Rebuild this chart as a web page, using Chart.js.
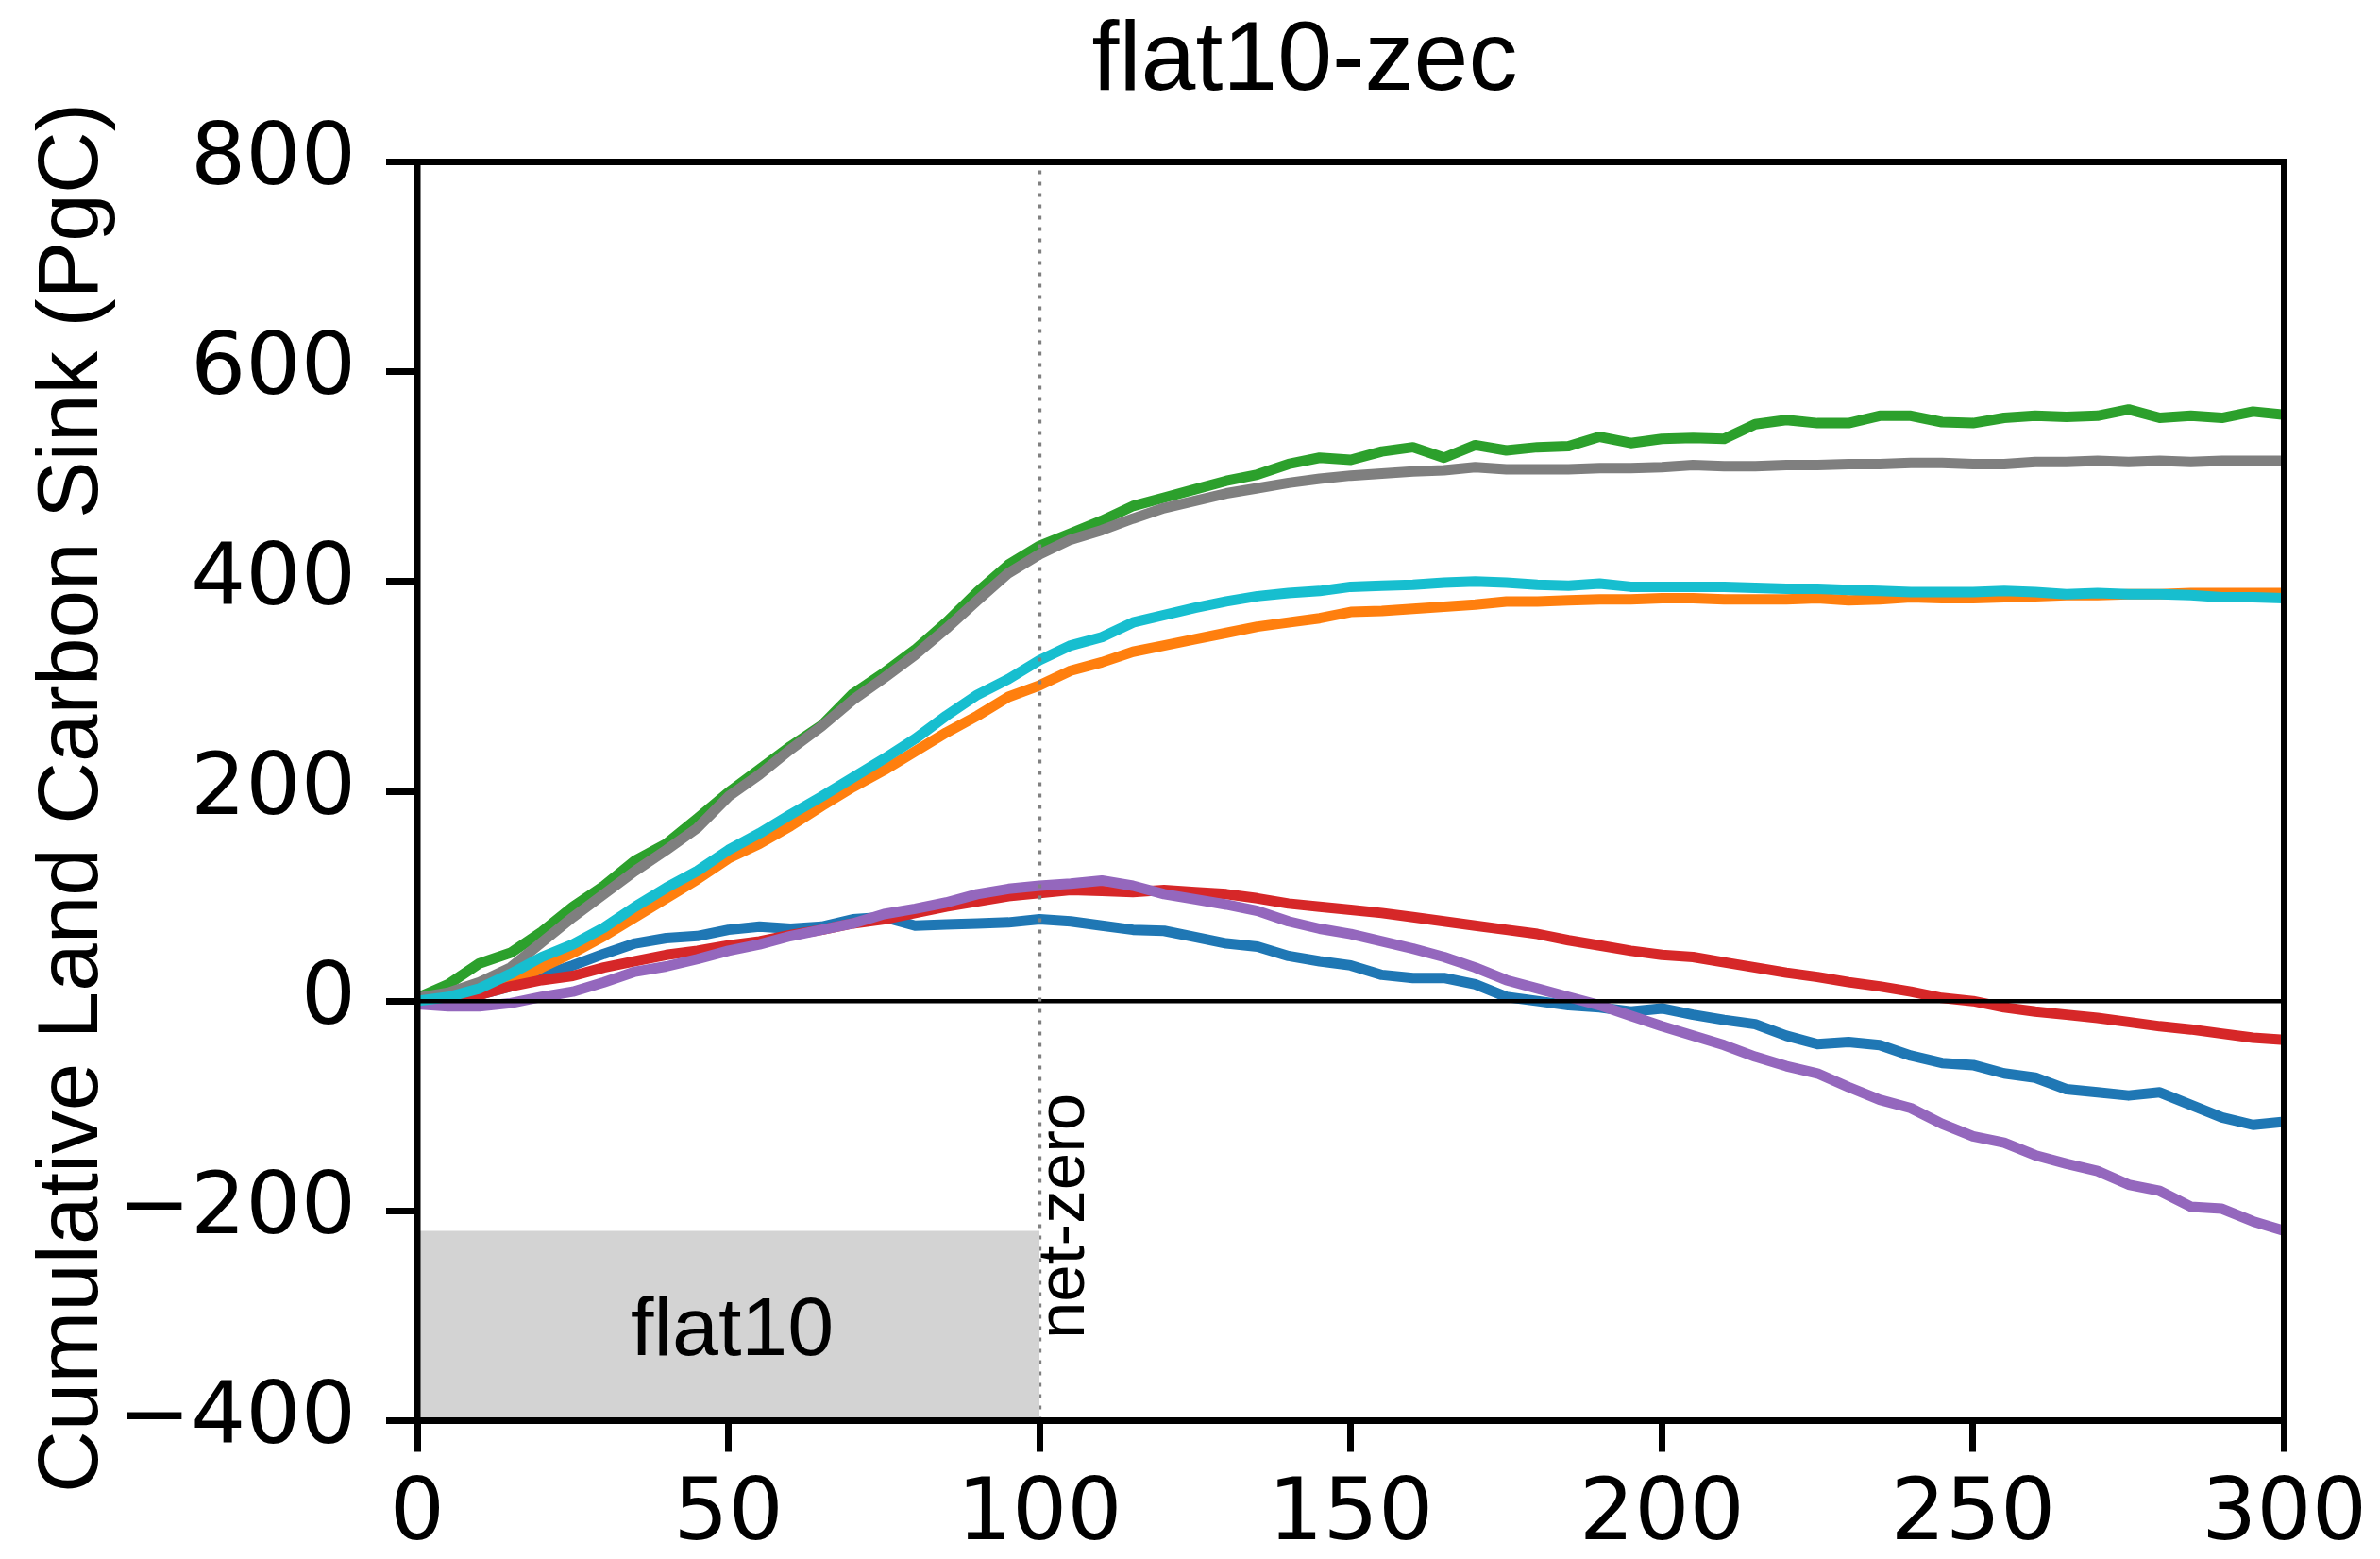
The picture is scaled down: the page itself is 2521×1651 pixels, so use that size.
<!DOCTYPE html>
<html>
<head>
<meta charset="utf-8">
<script src="https://cdn.jsdelivr.net/npm/chart.js@4.4.1/dist/chart.umd.min.js"></script>
<style>
  html, body { margin: 0; padding: 0; background: #fff; }
  #wrap { width: 2521px; height: 1651px; }
</style>
</head>
<body>
<div id="wrap"><canvas id="c" width="2521" height="1651"></canvas></div>
<script>
// years since start of run (every 5 years)
const years = [0, 5, 10, 15, 20, 25, 30, 35, 40, 45, 50, 55, 60, 65, 70, 75, 80, 85, 90, 95, 100,
  105, 110, 115, 120, 125, 130, 135, 140, 145, 150, 155, 160, 165, 170, 175, 180, 185, 190, 195, 200,
  205, 210, 215, 220, 225, 230, 235, 240, 245, 250, 255, 260, 265, 270, 275, 280, 285, 290, 295, 300];

// cumulative land carbon sink, PgC
const blue = [0, 0, 6, 14, 24, 34, 45, 55, 60, 62, 68, 71, 69, 71, 78, 80, 72, 73, 74, 75, 78,
  76, 72, 68, 67, 61, 55, 52, 43, 38, 34, 25, 22, 22, 16, 4, 0, -4, -6, -10, -7,
  -13, -18, -22, -33, -41, -39, -42, -52, -59, -61, -69, -73, -84, -87, -90, -87, -99, -111, -118, -115];
const orange = [0, 1, 6, 16, 32, 46, 62, 80, 98, 116, 136, 150, 167, 186, 204, 220, 238, 256, 272, 290, 301,
  315, 323, 333, 339, 345, 351, 357, 361, 365, 371, 372, 374, 376, 378, 381, 381, 382, 383, 383, 384,
  384, 383, 383, 383, 384, 382, 383, 385, 384, 384, 385, 386, 387, 387, 388, 388, 389, 389, 389, 389];
const green = [3, 16, 36, 46, 66, 90, 110, 134, 150, 174, 199, 221, 243, 263, 293, 313, 335, 361, 390, 416, 434,
  446, 458, 472, 480, 488, 496, 502, 512, 518, 516, 524, 528, 518, 530, 525, 528, 529, 538, 532, 536,
  537, 536, 550, 554, 551, 551, 558, 558, 552, 551, 556, 558, 557, 558, 564, 556, 558, 556, 562, 559];
const red = [0, 2, 6, 14, 20, 24, 32, 38, 44, 48, 53, 57, 63, 68, 74, 78, 84, 90, 95, 100, 103,
  106, 105, 104, 106, 104, 102, 98, 93, 90, 87, 84, 80, 76, 72, 68, 64, 58, 53, 48, 44,
  42, 37, 32, 27, 23, 18, 14, 9, 3, 0, -6, -10, -13, -16, -20, -24, -27, -31, -35, -37];
const purple = [-3, -5, -5, -2, 4, 9, 18, 28, 33, 40, 48, 54, 62, 68, 74, 83, 88, 94, 102, 107, 110,
  112, 115, 110, 102, 97, 92, 86, 76, 69, 64, 57, 50, 42, 32, 20, 12, 4, -4, -14, -24,
  -33, -42, -53, -62, -69, -82, -94, -102, -117, -129, -135, -147, -155, -162, -175, -181, -196, -198, -210, -219];
const gray = [3, 8, 18, 32, 56, 80, 102, 124, 144, 165, 195, 216, 240, 262, 287, 308, 330, 355, 382, 408, 426,
  440, 449, 460, 470, 477, 484, 489, 494, 498, 501, 503, 505, 506, 509, 507, 507, 507, 508, 508, 509,
  511, 510, 510, 511, 511, 512, 512, 513, 513, 512, 512, 514, 514, 515, 514, 515, 514, 515, 515, 515];
const cyan = [0, 4, 12, 26, 42, 54, 70, 90, 108, 124, 144, 160, 178, 195, 213, 231, 250, 272, 292, 307, 325,
  339, 347, 361, 368, 375, 381, 386, 389, 391, 395, 396, 397, 399, 400, 399, 397, 396, 398, 395, 395,
  395, 395, 394, 393, 393, 392, 391, 390, 390, 390, 391, 390, 388, 389, 388, 388, 387, 385, 385, 384];

const xTicks = [0, 50, 100, 150, 200, 250, 300];
const yTicks = [-400, -200, 0, 200, 400, 600, 800];
const netZeroYear = 100;
const flat10Span = [0, 100];
const flat10Top = -219;

const titleText = "flat10-zec";
const yLabel = "Cumulative Land Carbon Sink (PgC)";

const series = [
  { data: blue, color: "#1f77b4" },
  { data: orange, color: "#ff7f0e" },
  { data: green, color: "#2ca02c" },
  { data: red, color: "#d62728" },
  { data: purple, color: "#9467bd" },
  { data: gray, color: "#7f7f7f" },
  { data: cyan, color: "#17becf" },
];

const pts = (vals) => years.map((yr, i) => ({ x: yr, y: vals[i] }));

// later series sit on top, as in matplotlib
const datasets = series.map((s, i) => ({
  data: pts(s.data),
  borderColor: s.color,
  borderWidth: 11,
  pointRadius: 0,
  tension: 0,
  borderJoinStyle: "round",
  clip: 0,
  order: 20 - i,
}));

// zero line
datasets.push({
  data: [{ x: xTicks[0], y: 0 }, { x: xTicks[xTicks.length - 1], y: 0 }],
  borderColor: "#000", borderWidth: 4.5, pointRadius: 0, clip: 0, order: 3,
});
// net-zero dotted line
datasets.push({
  data: [{ x: netZeroYear, y: yTicks[0] }, { x: netZeroYear, y: yTicks[yTicks.length - 1] }],
  borderColor: "#808080", borderWidth: 4, borderDash: [4, 8], borderCapStyle: "butt",
  pointRadius: 0, clip: 0, order: 2,
});
// flat10 box
datasets.push({
  data: [{ x: flat10Span[0], y: flat10Top }, { x: flat10Span[1], y: flat10Top }],
  borderWidth: 0, borderColor: "rgba(0,0,0,0)", backgroundColor: "#d3d3d3",
  fill: "start", pointRadius: 0, clip: 0, order: 1,
});

const decor = {
  id: "decor",
  afterDraw(chart) {
    const { ctx, chartArea: a, scales } = chart;
    const x = scales.x, y = scales.y;
    ctx.save();
    ctx.fillStyle = "#000";

    // title
    ctx.font = '104px "Liberation Sans"';
    ctx.textAlign = "center";
    ctx.textBaseline = "alphabetic";
    ctx.fillText(titleText, 1382, 95);

    // y axis label
    ctx.save();
    ctx.translate(103, 845);
    ctx.rotate(-Math.PI / 2);
    ctx.font = '91px "Liberation Sans"';
    ctx.fillText(yLabel, 0, 0);
    ctx.restore();

    // flat10 label
    ctx.font = '88px "Liberation Sans"';
    ctx.fillText("flat10", x.getPixelForValue(50) + 4, y.getPixelForValue(-337));

    // net-zero label
    ctx.save();
    ctx.translate(x.getPixelForValue(netZeroYear) + 47, y.getPixelForValue(-205));
    ctx.rotate(-Math.PI / 2);
    ctx.font = '71px "Liberation Sans"';
    ctx.fillText("net-zero", 0, 0);
    ctx.restore();

    // frame
    ctx.strokeStyle = "#000";
    ctx.lineWidth = 7;
    ctx.strokeRect(a.left, a.top, a.right - a.left, a.bottom - a.top);
    ctx.restore();
  },
};

const tickFont = { family: "DejaVu Sans", size: 91.7, lineHeight: 1.2 };

new Chart(document.getElementById("c"), {
  type: "line",
  data: { datasets },
  options: {
    responsive: false,
    devicePixelRatio: 1,
    animation: false,
    layout: { padding: { top: 171.5, right: 101, left: 0, bottom: 0 } },
    plugins: { legend: { display: false }, tooltip: { enabled: false }, title: { display: false } },
    scales: {
      x: {
        type: "linear",
        min: xTicks[0],
        max: xTicks[xTicks.length - 1],
        afterBuildTicks: (s) => { s.ticks = xTicks.map((v) => ({ value: v })); },
        afterFit: (s) => { s.height = 146.5; },
        grid: { drawOnChartArea: false, drawTicks: true, tickLength: 33, tickWidth: 7, tickColor: "#000" },
        border: { display: false },
        ticks: { color: "#000", font: tickFont, padding: 14, maxRotation: 0, autoSkip: false },
      },
      y: {
        type: "linear",
        min: yTicks[0],
        max: yTicks[yTicks.length - 1],
        afterBuildTicks: (s) => { s.ticks = yTicks.map((v) => ({ value: v })); },
        afterFit: (s) => { s.width = 442; },
        grid: { drawOnChartArea: false, drawTicks: true, tickLength: 33, tickWidth: 7, tickColor: "#000" },
        border: { display: false },
        ticks: {
          color: "#000", font: tickFont, padding: 32, autoSkip: false,
          callback: (v) => (v < 0 ? "\u2212" + Math.abs(v) : String(v)),
        },
      },
    },
  },
  plugins: [decor],
});
</script>
</body>
</html>
